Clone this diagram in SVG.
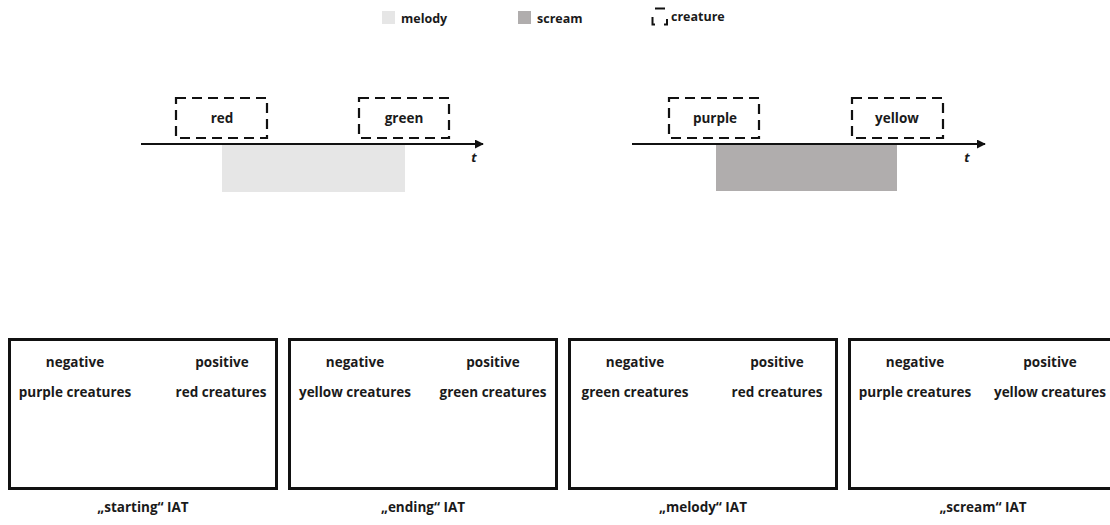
<svg xmlns="http://www.w3.org/2000/svg" width="1110" height="525" viewBox="0 0 1110 525">
  <defs>
    <marker id="arrow" viewBox="0 0 10 10" refX="9" refY="5" markerWidth="9" markerHeight="9" markerUnits="userSpaceOnUse" orient="auto">
      <path d="M0,0 L10,5 L0,10 z" fill="#111"/>
    </marker>
    <style>
      text { font-family: "Open Sans", "Liberation Sans", sans-serif; font-weight: bold; fill: #1a1a1a; }
      .lbl { font-size: 13.5px; text-anchor: middle; }
      .leg { font-size: 12.5px; }
      .t { font-size: 13px; font-style: italic; text-anchor: middle; }
      .creature { fill: none; stroke: #111; stroke-width: 2.2; stroke-dasharray: 10 6; }
      .axis { stroke: #111; stroke-width: 2; fill: none; }
      .iat { fill: #fff; stroke: #111; stroke-width: 3; }
      .melody { fill: #e6e6e6; }
      .scream { fill: #b0adad; }
    </style>
  </defs>
  <rect width="1110" height="525" fill="#fff"/>

  <!-- legend -->
  <g id="legend">
    <rect class="melody" x="382" y="11" width="13" height="13"/>
    <text class="leg" x="401" y="23">melody</text>
    <rect class="scream" x="518" y="11" width="13" height="13"/>
    <text class="leg" x="537" y="23">scream</text>
    <path d="M655,8.5 H665 M652.5,17 V24.5 H655 M667,19 V24.5 H664" fill="none" stroke="#111" stroke-width="2"/>
    <text class="leg" x="671" y="21">creature</text>
  </g>

  <!-- time axes -->
  <g id="connectors">
    <line class="axis" x1="141" y1="144" x2="483" y2="144" marker-end="url(#arrow)"/>
    <line class="axis" x1="632" y1="144" x2="985" y2="144" marker-end="url(#arrow)"/>
  </g>

  <!-- condition: melody -->
  <g id="melody-trial">
    <rect class="melody" x="222" y="145" width="183" height="47"/>
    <text class="t" x="474" y="162">t</text>
  </g>
  <g id="creature-red">
    <rect class="creature" x="176" y="98" width="91" height="40"/>
    <text class="lbl" x="222" y="123">red</text>
  </g>
  <g id="creature-green">
    <rect class="creature" x="359" y="98" width="90" height="40"/>
    <text class="lbl" x="404" y="123">green</text>
  </g>

  <!-- condition: scream -->
  <g id="scream-trial">
    <rect class="scream" x="716" y="145" width="181" height="46"/>
    <text class="t" x="967" y="162">t</text>
  </g>
  <g id="creature-purple">
    <rect class="creature" x="669" y="98" width="90" height="40"/>
    <text class="lbl" x="715" y="123">purple</text>
  </g>
  <g id="creature-yellow">
    <rect class="creature" x="852" y="98" width="91" height="40"/>
    <text class="lbl" x="897" y="123">yellow</text>
  </g>

  <!-- IAT screens -->
  <g id="iat-starting">
    <rect class="iat" x="9.5" y="339.5" width="267" height="149"/>
    <text class="lbl" x="75" y="367">negative</text>
    <text class="lbl" x="222" y="367">positive</text>
    <text class="lbl" x="75" y="397">purple creatures</text>
    <text class="lbl" x="221" y="397">red creatures</text>
    <text class="lbl" x="143" y="512">„starting“ IAT</text>
  </g>
  <g id="iat-ending">
    <rect class="iat" x="289.5" y="339.5" width="267" height="149"/>
    <text class="lbl" x="355" y="367">negative</text>
    <text class="lbl" x="493" y="367">positive</text>
    <text class="lbl" x="355" y="397">yellow creatures</text>
    <text class="lbl" x="493" y="397">green creatures</text>
    <text class="lbl" x="423" y="512">„ending“ IAT</text>
  </g>
  <g id="iat-melody">
    <rect class="iat" x="569.5" y="339.5" width="267" height="149"/>
    <text class="lbl" x="635" y="367">negative</text>
    <text class="lbl" x="777" y="367">positive</text>
    <text class="lbl" x="635" y="397">green creatures</text>
    <text class="lbl" x="777" y="397">red creatures</text>
    <text class="lbl" x="703" y="512">„melody“ IAT</text>
  </g>
  <g id="iat-scream">
    <rect class="iat" x="849.5" y="339.5" width="267" height="149"/>
    <text class="lbl" x="915" y="367">negative</text>
    <text class="lbl" x="1050" y="367">positive</text>
    <text class="lbl" x="915" y="397">purple creatures</text>
    <text class="lbl" x="1050" y="397">yellow creatures</text>
    <text class="lbl" x="983" y="512">„scream“ IAT</text>
  </g>
</svg>
